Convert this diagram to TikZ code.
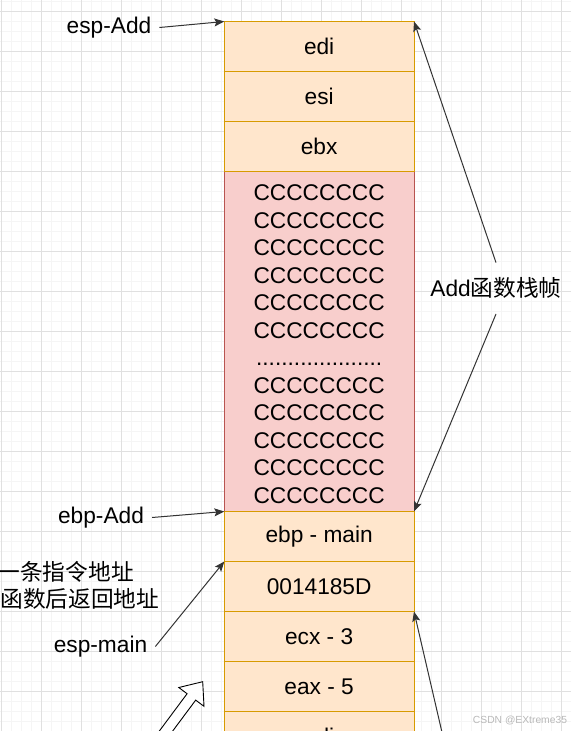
\documentclass[tikz,border=0pt]{standalone}
\usepackage{fontspec}
\setmainfont{Liberation Sans}
\newfontfamily\cjk{Noto Sans CJK SC}
\usetikzlibrary{arrows.meta}
\definecolor{cellfill}{HTML}{FFE6CC}
\definecolor{cellline}{HTML}{D79B00}
\definecolor{junkfill}{HTML}{F8CECC}
\definecolor{junkline}{HTML}{B85450}
\definecolor{majorgrid}{HTML}{E0E0E0}
\definecolor{minorgrid}{HTML}{F5F5F5}
\newcommand{\stackfont}{\fontsize{22.7}{27.5}\selectfont}
\tikzset{
    cell/.style={draw=cellline, fill=cellfill, line width=1pt,
        minimum width=189.7pt, minimum height=50pt,
        inner sep=0pt, outer sep=0pt, font=\stackfont},
    junkcell/.style={cell, draw=junkline, fill=junkfill,
        minimum height=340pt, align=center},
    tag/.style={inner xsep=8pt, inner ysep=2pt, font=\stackfont},
    pointer/.style={-{Stealth[length=10pt,width=8pt,inset=2pt]}, line width=1pt, draw=black!80},
}
\begin{document}
\begin{tikzpicture}[x=1pt,y=-1pt]
    \useasboundingbox (0,0) rectangle (571,731);
    \clip (0,0) rectangle (571,731);
    % grid
    \foreach \x in {1.3,11.3,...,571} \draw[minorgrid,line width=0.8pt] (\x,0) -- (\x,731);
    \foreach \y in {1.3,11.3,...,731} \draw[minorgrid,line width=0.8pt] (0,\y) -- (571,\y);
    \foreach \x in {1.3,41.3,...,571} \draw[majorgrid,line width=0.9pt] (\x,0) -- (\x,731);
    \foreach \y in {11.3,51.3,...,731} \draw[majorgrid,line width=0.9pt] (0,\y) -- (571,\y);

    % stack
    \node[junkcell] (junk) at (319.15,341.5) {\rule{0pt}{21.3pt}CCCCCCCC\\CCCCCCCC\\CCCCCCCC\\CCCCCCCC\\CCCCCCCC\\CCCCCCCC\\
        ....................\\CCCCCCCC\\CCCCCCCC\\CCCCCCCC\\CCCCCCCC\\CCCCCCCC};
    \foreach \n/\t/\y in {edia/edi/46.5, esia/esi/96.5, ebxa/ebx/146.5,
            ebpmain/ebp - main/536.5, retaddr/0014185D/586.5,
            ecxarg/ecx - 3/636.5, eaxarg/eax - 5/686.5, edib/edi/736.5}
        \node[cell] (\n) at (319.15,\y) {\t};

    % labels
    \node[tag] (espadd) at (109,27.5) {esp-Add};
    \node[tag] (ebpadd) at (101,517.5) {ebp-Add};
    \node[tag] (espmain) at (100.5,646.5) {esp-main};
    \node[tag, inner xsep=2pt, inner ysep=15pt] (frame) at (496,288.3) {Add{\cjk 函数栈帧}};
    \node[inner sep=0pt, anchor=east, font=\stackfont\cjk] (nextins) at (134,572) {一条指令地址};
    \node[inner sep=0pt, anchor=east, font=\stackfont\cjk] (retins) at (159.5,598.5) {函数后返回地址};
    \node[inner sep=0pt, text=black!28, font=\fontsize{10.3}{12}\selectfont] (mark) at (520,720) {CSDN @EXtreme35};
    \coordinate (lowend) at (448.4,760);

    % arrows
    \draw[pointer] (espadd.east) -- (edia.north west);
    \draw[pointer] (ebpadd.east) -- (junk.south west);
    \draw[pointer] (espmain.east) -- (retaddr.north west);
    \draw[pointer] (frame.north) -- (edia.north east);
    \draw[pointer] (frame.south) -- (junk.south east);
    \draw[pointer] (lowend) -- (ecxarg.north east);

    % hollow arrow
    \draw[fill=white, line width=0.9pt, line join=miter]
        (151.3,741.8) -- (187.1,693.7) -- (178.8,687.5) -- (202.7,681.7)
        -- (204.0,706.3) -- (195.7,700.1) -- (159.9,748.2) -- cycle;
\end{tikzpicture}
\end{document}
